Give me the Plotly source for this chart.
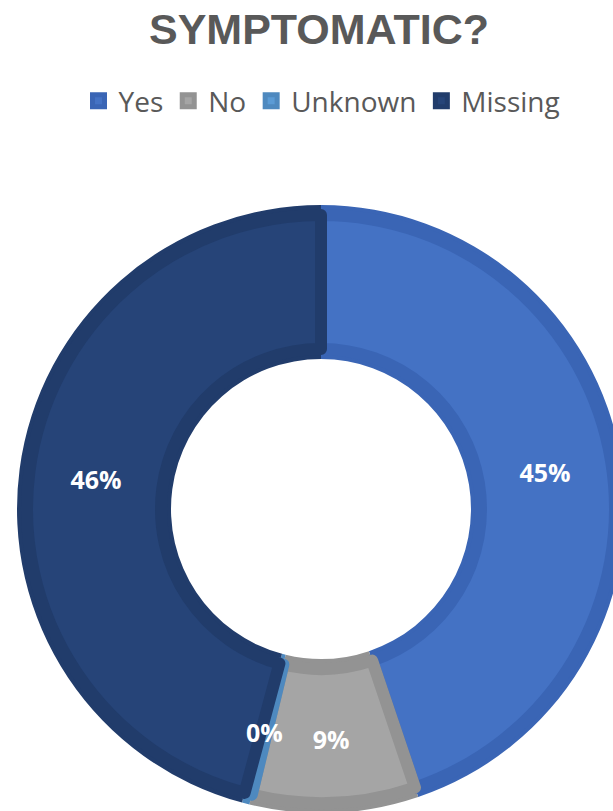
import math
import plotly.graph_objects as go

# Data
labels = ["Yes", "No", "Unknown", "Missing"]
values = [45, 9, 0.4, 46]

# Styles
fill_colors = ["#4472C4", "#A5A5A5", "#5B9BD5", "#264478"]
edge_colors = ["#3A65B5", "#939393", "#4E89BF", "#213C6B"]

# The reference's ring runs past the right and bottom edges of the
# 613x811 view, so the figure is drawn slightly larger and the view crops it.
W, H = 626, 814
cx, cy = 321, 509          # pie centre in pixels (from top-left)
R_out, R_in = 304, 150     # ring radii
band = 10                  # darker inner-edge band width
small_label = "Unknown"    # slice too thin for plotly's inside text

def dom(r):
    return dict(x=[(cx - r) / W, (cx + r) / W],
                y=[(H - cy - r) / H, (H - cy + r) / H])

total = sum(values)
templates = [" " if lab == small_label else "%{percent:.0%}" for lab in labels]

fig = go.Figure()

# Outer darker ring (edge band)
fig.add_trace(go.Pie(
    labels=labels, values=values, sort=False, direction="clockwise",
    rotation=0, hole=R_in / R_out, domain=dom(R_out),
    marker=dict(colors=edge_colors, line=dict(width=0)),
    textinfo="none", hoverinfo="label+percent", showlegend=False,
))

# Inner lighter ring
R2o, R2i = R_out - band, R_in + band
fig.add_trace(go.Pie(
    labels=labels, values=values, sort=False, direction="clockwise",
    rotation=0, hole=R2i / R2o, domain=dom(R2o),
    marker=dict(colors=fill_colors, line=dict(color=edge_colors, width=12)),
    texttemplate=templates, textposition="inside",
    insidetextorientation="horizontal",
    textfont=dict(family="Open Sans", size=25, color="white", weight="bold"),
    hoverinfo="label+percent", showlegend=True,
))

# Label for the thin slice, placed at its mid-angle on the ring centre line
i = labels.index(small_label)
frac_mid = (sum(values[:i]) + values[i] / 2) / total
theta = 2 * math.pi * frac_mid
r_lab = (R_out + R_in) / 2 + 3
px = cx + r_lab * math.sin(theta)
py = cy - r_lab * math.cos(theta)
fig.add_annotation(
    x=px / W, y=1 - py / H, xref="paper", yref="paper",
    text="<b>%d%%</b>" % round(100 * values[i] / total), showarrow=False,
    font=dict(family="Open Sans", size=25, color="white"),
    xanchor="center", yanchor="middle",
)

fig.update_layout(
    width=W, height=H,
    margin=dict(l=0, r=0, t=0, b=0),
    paper_bgcolor="white", plot_bgcolor="white",
    title=dict(text="<b>SYMPTOMATIC?</b>", x=319 / W, xanchor="center",
               y=1 - 29 / H, yanchor="middle",
               font=dict(family="Liberation Sans", size=43, color="#595959")),
    legend=dict(orientation="h", x=322 / W, xanchor="center",
                y=1 - 101 / H, yanchor="middle",
                font=dict(family="Open Sans", size=28, color="#595959"),
                itemclick=False),
    uniformtext=dict(minsize=25, mode="show"),
)

fig.write_html(
    "out.html",
    config={"displayModeBar": False},
    post_script="document.body.style.margin='0';document.body.style.overflow='hidden';",
)
